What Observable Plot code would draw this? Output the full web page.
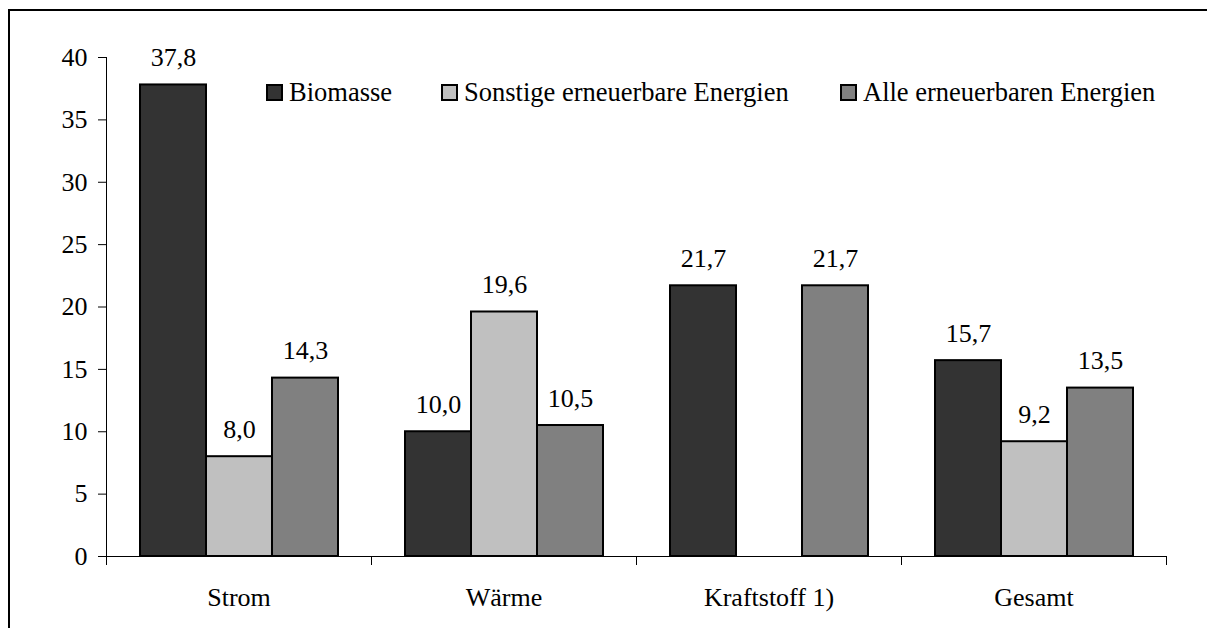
<!DOCTYPE html>
<html>
<head>
<meta charset="utf-8">
<script src="https://cdn.jsdelivr.net/npm/d3@7"></script>
<script src="https://cdn.jsdelivr.net/npm/@observablehq/plot@0.6"></script>
<style>
  html, body { margin: 0; padding: 0; background: #fff; width: 1207px; height: 628px; overflow: hidden; }
  #frame { position: absolute; left: 8px; top: 9px; width: 1300px; height: 700px; border-top: 2px solid #000; border-left: 2px solid #000; }
  #chart { position: absolute; left: 0; top: 0; }
  #chart svg, #chart svg text, #chart svg g { font-family: "Liberation Serif", "Times New Roman", serif !important; font-size: 26px !important; }
  #chart svg text { fill: #000; }
  .legend { position: absolute; top: 76px; font-family: "Liberation Serif", "Times New Roman", serif; font-size: 26.5px; color: #000; display: flex; align-items: center; white-space: nowrap; line-height: 32px; }
  .legend .sw { width: 17px; height: 17px; border: 2px solid #000; box-sizing: border-box; margin-right: 6px; }
</style>
</head>
<body>
<div id="frame"></div>
<div id="chart"></div>
<div id="legend"></div>
<script>
const categories = ["Strom", "Wärme", "Kraftstoff 1)", "Gesamt"];
const seriesNames = ["Biomasse", "Sonstige erneuerbare Energien", "Alle erneuerbaren Energien"];
const biomasse = [37.8, 10.0, 21.7, 15.7];
const sonstige = [8.0, 19.6, null, 9.2];
const alle = [14.3, 10.5, 21.7, 13.5];
const yTicks = [0, 5, 10, 15, 20, 25, 30, 35, 40];
const seriesColors = ["#333333", "#c0c0c0", "#808080"];

const seriesValues = [biomasse, sonstige, alle];
const rows = [];
categories.forEach((c, i) => {
  seriesNames.forEach((s, j) => {
    const v = seriesValues[j][i];
    if (v != null) rows.push({category: c, series: s, value: v});
  });
});
const fmt = v => d3.format(".1f")(v).replace(".", ",");
const serif = "'Liberation Serif', 'Times New Roman', serif";

const plot = Plot.plot({
  width: 1207,
  height: 628,
  marginLeft: 105,
  marginRight: 40,
  marginTop: 57,
  marginBottom: 72,
  style: {fontFamily: serif, fontSize: "26px", color: "#000", background: "transparent", overflow: "visible"},
  fx: {domain: categories, padding: 0, label: null},
  x: {domain: seriesNames, paddingInner: 0, paddingOuter: 0.5, axis: null},
  y: {domain: [0, 40], label: null},
  color: {domain: seriesNames, range: seriesColors},
  marks: [
    Plot.axisY({ticks: yTicks, tickSize: 8, tickPadding: 11, tickFormat: d => String(d), label: null, stroke: "#000", fontFamily: serif, fontSize: 26}),
    Plot.axisFx({anchor: "bottom", tickSize: 0, tickPadding: 31, label: null, fontFamily: serif, fontSize: 26}),
    Plot.barY(rows, {fx: "category", x: "series", y: "value", fill: "series", stroke: "#000", strokeWidth: 2}),
    Plot.text(rows, {fx: "category", x: "series", y: "value", text: d => fmt(d.value), dy: -27, lineAnchor: "middle", fill: "#000", fontFamily: serif, fontSize: 26})
  ]
});
document.getElementById("chart").appendChild(plot);

// force the serif face on every text node
const svg = d3.select(plot);
svg.selectAll("text, g").style("font-family", serif).style("font-size", "26px");

// axis lines and boundary ticks from the library's scales
const fxS = plot.scale("fx");
const yS = plot.scale("y");
const y0 = yS.apply(0), y40 = yS.apply(40);
const bounds = categories.map(c => fxS.apply(c));
bounds.push(fxS.apply(categories[categories.length - 1]) + fxS.bandwidth);
const g = svg.append("g").attr("stroke", "#000").attr("stroke-width", 1).attr("shape-rendering", "crispEdges");
g.append("line").attr("x1", bounds[0]).attr("x2", bounds[bounds.length - 1]).attr("y1", y0).attr("y2", y0);
g.append("line").attr("x1", bounds[0]).attr("x2", bounds[0]).attr("y1", y40).attr("y2", y0);
bounds.forEach(b => g.append("line").attr("x1", b).attr("x2", b).attr("y1", y0).attr("y2", y0 + 9));

// legend
const legendLefts = [266, 441, 840];
const legend = document.getElementById("legend");
seriesNames.forEach((s, j) => {
  const item = document.createElement("div");
  item.className = "legend";
  item.style.left = legendLefts[j] + "px";
  const sw = document.createElement("div");
  sw.className = "sw";
  sw.style.background = seriesColors[j];
  const t = document.createElement("span");
  t.textContent = s;
  item.appendChild(sw);
  item.appendChild(t);
  legend.appendChild(item);
});
</script>
</body>
</html>
